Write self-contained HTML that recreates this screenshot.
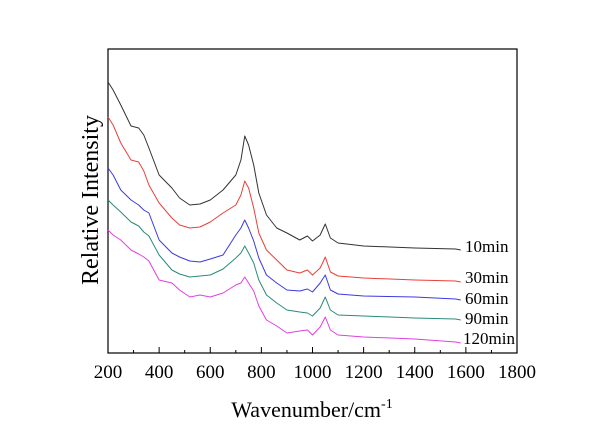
<!DOCTYPE html>
<html><head><meta charset="utf-8"><style>
body{margin:0;background:#fff;}
svg{display:block;font-family:"Liberation Serif",serif;}
</style></head><body>
<svg id="chart" width="600" height="424" viewBox="0 0 600 424">
<rect x="108" y="49" width="409" height="304" fill="none" stroke="#000" stroke-width="1.2"/>
<g id="xticks"></g>
<g id="series"></g>
<text x="312" y="417" font-size="22" text-anchor="middle">Wavenumber/cm<tspan font-size="14" dy="-9">-1</tspan></text>
<text transform="translate(98,200) rotate(-90)" font-size="24" text-anchor="middle">Relative Intensity</text>
</svg>
<script>
const xTickLabels=[200,400,600,800,1000,1200,1400,1600,1800];
const seriesNames=["10min","30min","60min","90min","120min"];
const seriesColors=["#333333","#e8403a","#3a3ae0","#2a8a7a","#e040e0"];
const wn=[200,220,250,290,320,340,360,400,450,480,520,560,600,650,700,720,735,750,770,790,820,860,900,950,980,1000,1030,1050,1070,1100,1200,1400,1560,1580];
const s10=[271,263,248,227,225,218,205,178,165,155,148,149,153,163,178,193,217,208,188,160,138,125,120,113,117,112,118,129,115,110,107,105,104,103];
const s30=[236,228,210,193,191,182,168,150,135,128,125,126,131,140,148,158,172,165,145,120,103,93,83,80,83,78,85,96,81,77,75,73,72,71];
const s60=[185,178,163,153,148,143,140,113,100,96,92,91,94,98,118,125,133,125,112,95,78,70,63,62,64,61,70,78,63,59,57,56,54,53];
const s90=[153,148,141,131,127,121,117,98,83,79,76,77,78,84,95,100,107,100,90,73,58,50,43,41,40,37,45,56,43,38,37,35,34,33];
const s120=[123,118,113,103,99,96,92,73,70,63,56,58,56,60,68,70,76,70,62,47,33,27,20,22,23,18,26,36,23,18,16,14,11,10];
const allSeries=[s10,s30,s60,s90,s120];
const labelValues=[101,70,49,29,9];
const X=v=>108+(v-200)/1600*409;
const Y=v=>353-v;
const NS="http://www.w3.org/2000/svg";
const gx=document.getElementById('xticks');
for(let v=200;v<=1800;v+=100){
  const t=document.createElementNS(NS,'line');
  const major=xTickLabels.includes(v);
  t.setAttribute('x1',X(v));t.setAttribute('x2',X(v));
  t.setAttribute('y1',353);t.setAttribute('y2',major?347:350);
  t.setAttribute('stroke','#000');
  
  
  gx.appendChild(t);
}
xTickLabels.forEach(v=>{
  const t=document.createElementNS(NS,'text');
  t.setAttribute('x',X(v));t.setAttribute('y',378);
  t.setAttribute('font-size','19');t.setAttribute('text-anchor','middle');
  t.textContent=v;
  
  
  gx.appendChild(t);
});
const gs=document.getElementById('series');
allSeries.forEach((s,i)=>{
  const p=document.createElementNS(NS,'polyline');
  p.setAttribute('points',s.map((v,j)=>X(wn[j])+','+Y(v)).join(' '));
  p.setAttribute('fill','none');p.setAttribute('stroke',seriesColors[i]);
  p.setAttribute('stroke-width','1');p.setAttribute('stroke-linejoin','round');
  
  
  gs.appendChild(p);
  const t=document.createElementNS(NS,'text');
  t.setAttribute('x',seriesNames[i]==='120min'?463:465);
  t.setAttribute('y',Y(labelValues[i]));
  t.setAttribute('font-size','17');
  t.textContent=seriesNames[i];
  
  
  gs.appendChild(t);
});
</script>
</body></html>
